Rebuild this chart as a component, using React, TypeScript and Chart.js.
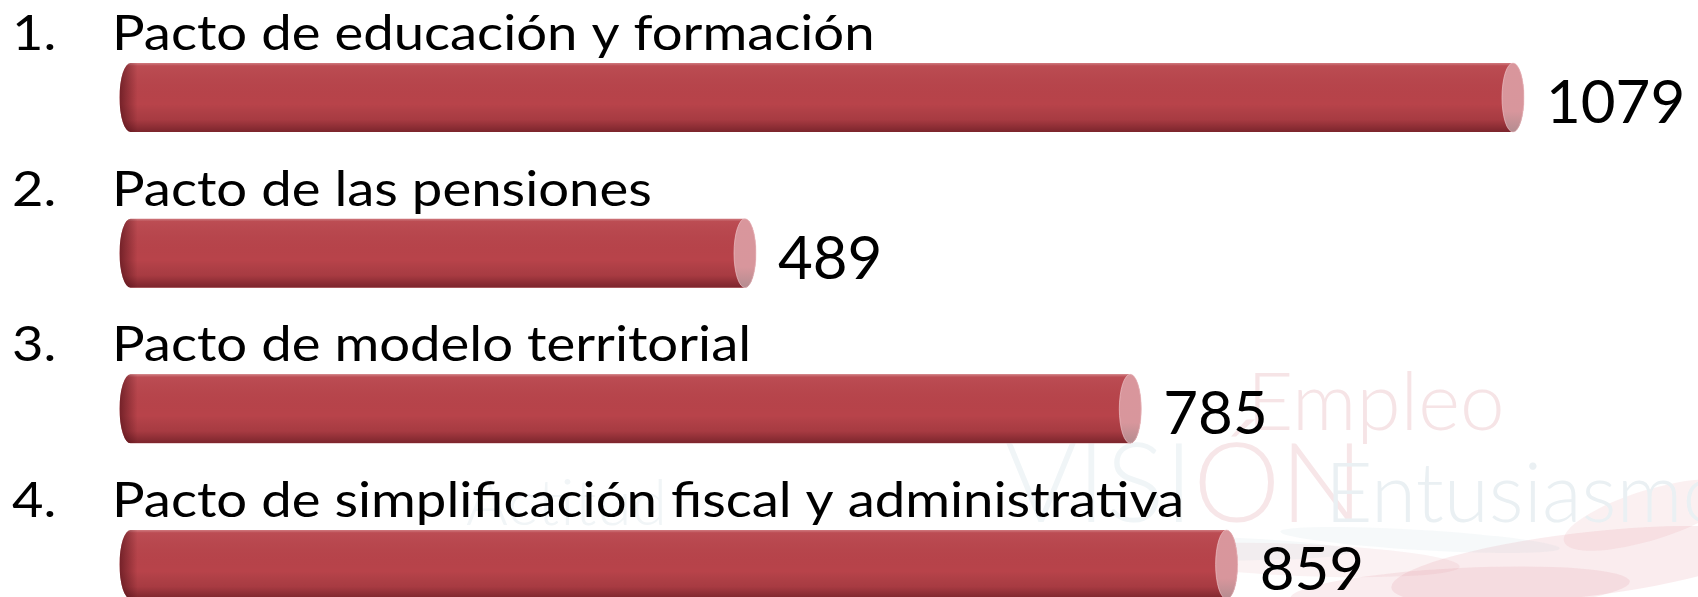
import React, { useEffect, useRef } from "react";
import { Chart, registerables } from "chart.js";

Chart.register(...registerables);

const categories = [
  "Pacto de educación y formación",
  "Pacto de las pensiones",
  "Pacto de modelo territorial",
  "Pacto de simplificación fiscal y administrativa",
];
const rankLabels = ["1.", "2.", "3.", "4."];
const values = [1079, 489, 785, 859];
const xMin = 0;
const xMax = 1200;

const W = 1698;
const H = 597;
const CAP_RX = 11;

function cylinderPath(ctx: CanvasRenderingContext2D, left: number, right: number, cy: number, h: number) {
  const ry = h / 2;
  ctx.moveTo(left + CAP_RX * 2, cy);
  ctx.ellipse(left + CAP_RX, cy, CAP_RX, ry, 0, 0, Math.PI * 2);
  ctx.rect(left + CAP_RX, cy - ry, right - left - 2 * CAP_RX, h);
  ctx.moveTo(right, cy);
  ctx.ellipse(right - CAP_RX, cy, CAP_RX, ry, 0, 0, Math.PI * 2);
}

function stretchedText(ctx: CanvasRenderingContext2D, text: string, x: number, y: number, sx: number) {
  ctx.save();
  ctx.translate(x, y);
  ctx.scale(sx, 1);
  ctx.fillText(text, 0, 0);
  ctx.restore();
}

const watermarkPlugin = {
  id: "watermark",
  beforeDatasetsDraw(chart: any) {
    const ctx = chart.ctx as CanvasRenderingContext2D;
    ctx.save();
    const blobs = [
      [1580, 565, 190, 32, -0.12, "rgba(214,110,120,0.13)"],
      [1460, 590, 170, 22, -0.05, "rgba(214,110,120,0.12)"],
      [1300, 560, 160, 16, 0.04, "rgba(214,110,120,0.09)"],
      [1180, 548, 170, 12, 0.02, "rgba(140,180,195,0.08)"],
      [1650, 515, 90, 25, -0.3, "rgba(214,110,120,0.10)"],
      [1420, 540, 140, 10, 0.06, "rgba(140,180,195,0.08)"],
    ];
    for (const b of blobs) {
      ctx.beginPath();
      ctx.ellipse(b[0] as number, b[1] as number, b[2] as number, b[3] as number, b[4] as number, 0, Math.PI * 2);
      ctx.fillStyle = b[5] as string;
      ctx.fill();
    }
    ctx.textBaseline = "alphabetic";
    ctx.font = "300 80px Lato";
    ctx.fillStyle = "#F6E4E6";
    ctx.fillText("Empleo", 1247, 430);
    ctx.font = "300 110px Lato";
    ctx.fillStyle = "#F0F5F7";
    ctx.fillText("VISI", 1005, 522);
    const w1 = ctx.measureText("VISI").width;
    ctx.fillStyle = "#F7E6E8";
    ctx.fillText("ÓN", 1005 + w1, 522);
    ctx.font = "300 82px Lato";
    ctx.fillStyle = "#EAF0F3";
    ctx.fillText("Entusiasmo", 1325, 522);
    ctx.font = "300 64px Lato";
    ctx.fillStyle = "#F1F5F7";
    ctx.fillText("Actitud", 466, 525);
    ctx.restore();
  },
};

const cylinderPlugin = {
  id: "cylinder",
  beforeDatasetDraw(chart: any, args: any) {
    const ctx = chart.ctx as CanvasRenderingContext2D;
    const meta = chart.getDatasetMeta(args.index);
    ctx.save();
    ctx.beginPath();
    meta.data.forEach((el: any) => {
      cylinderPath(ctx, el.base, el.x, el.y, el.height);
    });
    ctx.clip();
  },
  afterDatasetDraw(chart: any, args: any) {
    const ctx = chart.ctx as CanvasRenderingContext2D;
    const meta = chart.getDatasetMeta(args.index);
    meta.data.forEach((el: any) => {
      const top = el.y - el.height / 2;
      const h = el.height;
      const vg = ctx.createLinearGradient(0, top, 0, top + h);
      vg.addColorStop(0, "rgba(255,220,220,0.35)");
      vg.addColorStop(0.04, "rgba(255,255,255,0.05)");
      vg.addColorStop(0.6, "rgba(0,0,0,0)");
      vg.addColorStop(0.82, "rgba(50,0,8,0.12)");
      vg.addColorStop(1, "rgba(50,0,8,0.45)");
      ctx.fillStyle = vg;
      ctx.fillRect(el.base, top, el.x - el.base, h);
      const hg = ctx.createLinearGradient(el.base, 0, el.base + 18, 0);
      hg.addColorStop(0, "rgba(50,0,8,0.5)");
      hg.addColorStop(1, "rgba(50,0,8,0)");
      ctx.fillStyle = hg;
      ctx.fillRect(el.base, top, 18, h);
    });
    ctx.restore();
    meta.data.forEach((el: any) => {
      const top = el.y - el.height / 2;
      const h = el.height;
      const cg = ctx.createLinearGradient(0, top, 0, top + h);
      cg.addColorStop(0, "#D9969C");
      cg.addColorStop(0.7, "#D8969C");
      cg.addColorStop(1, "#B48C90");
      ctx.beginPath();
      ctx.ellipse(el.x - CAP_RX, el.y, CAP_RX, h / 2, 0, 0, Math.PI * 2);
      ctx.fillStyle = cg;
      ctx.fill();
      ctx.lineWidth = 0.8;
      ctx.strokeStyle = "rgba(240,200,205,0.8)";
      ctx.stroke();
    });
  },
};

const labelPlugin = {
  id: "labels",
  afterDraw(chart: any) {
    const ctx = chart.ctx as CanvasRenderingContext2D;
    const meta = chart.getDatasetMeta(0);
    ctx.save();
    ctx.fillStyle = "#000000";
    ctx.textBaseline = "alphabetic";
    meta.data.forEach((el: any, i: number) => {
      const top = el.y - el.height / 2;
      ctx.font = "48px Lato";
      stretchedText(ctx, rankLabels[i], 12, top - 13, 1.13);
      stretchedText(ctx, categories[i], 112, top - 13, 1.135);
      ctx.font = "60px Lato";
      ctx.fillText(String(values[i]), el.x + 22, el.y + 25.5);
    });
    ctx.restore();
  },
};

export default function App() {
  const canvasRef = useRef<HTMLCanvasElement | null>(null);

  useEffect(() => {
    document.body.style.margin = "0";
    const canvas = canvasRef.current;
    if (!canvas) return;
    const chart = new Chart(canvas, {
      type: "bar",
      data: {
        labels: categories,
        datasets: [
          {
            data: values,
            backgroundColor: "#B8434A",
            borderWidth: 0,
            barThickness: 69,
            clip: false as any,
          },
        ],
      },
      options: {
        indexAxis: "y",
        responsive: false,
        animation: false,
        layout: { padding: { left: 119.5, right: 16.5, top: 97.5, bottom: 32.5 } },
        plugins: { legend: { display: false }, tooltip: { enabled: false } },
        scales: {
          x: { type: "linear", min: xMin, max: xMax, display: false },
          y: { type: "category", offset: false, display: false, grid: { offset: false } },
        },
      },
      plugins: [watermarkPlugin, cylinderPlugin, labelPlugin],
    });
    return () => chart.destroy();
  }, []);

  return (
    <div style={{ position: "absolute", left: 0, top: 0, width: W, height: H, background: "#fff" }}>
      <canvas ref={canvasRef} width={W} height={H} style={{ display: "block" }} />
    </div>
  );
}
